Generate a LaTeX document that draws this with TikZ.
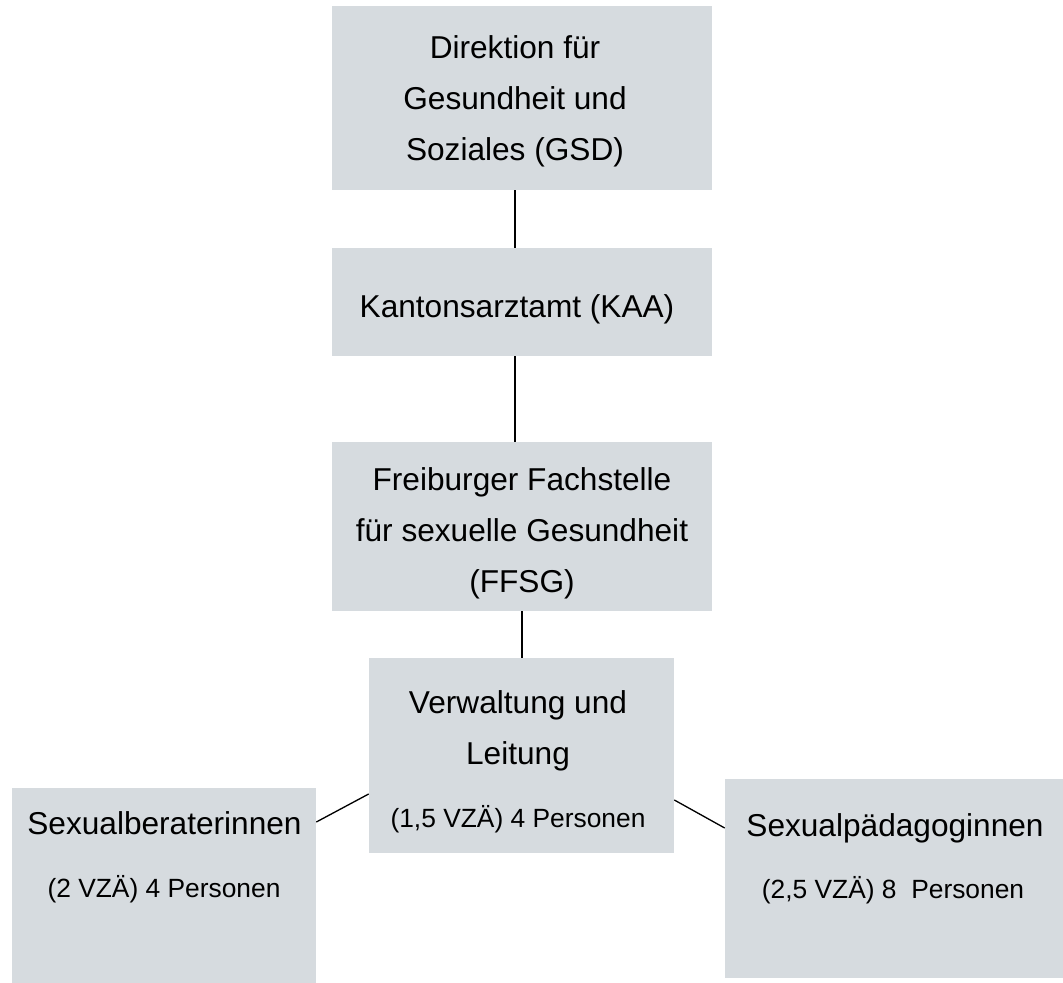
\documentclass[tikz,border=0pt]{standalone}
\usepackage{fontspec}
\setmainfont{Liberation Sans}
\usetikzlibrary{positioning}
\definecolor{boxgray}{RGB}{214,219,223}

\begin{document}
\begin{tikzpicture}[x=0.02cm, y=-0.02cm]
  \tikzstyle{unit} = [rectangle, fill=boxgray, inner sep = 0pt]
  \tikzstyle{title} = [inner sep = 0pt, align=center, font=\fontsize{18}{29}\selectfont]
  \tikzstyle{staff} = [inner sep = 0pt, anchor=base, font=\fontsize{15}{18}\selectfont]
  \tikzstyle{link} = [line width = 0.75pt]

  \useasboundingbox (0,0) rectangle (1063,983);

  % Draw boxes
  \node[unit, minimum width = 7.6cm, minimum height = 3.68cm] (gsd) at (522,98) {};
  \node[unit, minimum width = 7.6cm, minimum height = 2.16cm] (kaa) at (522,302) {};
  \node[unit, minimum width = 7.6cm, minimum height = 3.38cm] (ffsg) at (522,526.5) {};
  \node[unit, minimum width = 6.1cm, minimum height = 3.9cm] (vl) at (521.5,755.5) {};
  \node[unit, minimum width = 6.08cm, minimum height = 3.9cm] (sb) at (164,885.5) {};
  \node[unit, minimum width = 6.76cm, minimum height = 3.98cm] (sp) at (894,878.5) {};

  % Draw titles
  \node[title] (gsd-text) at (515,101) {Direktion für\\Gesundheit und\\Soziales (GSD)};
  \node[title, anchor=base] (kaa-text) at (517,318) {Kantonsarztamt (KAA)};
  \node[title] (ffsg-text) at (522,533) {Freiburger Fachstelle\\für sexuelle Gesundheit\\(FFSG)};
  \node[title] (vl-text) at (518,731) {Verwaltung und\\Leitung};
  \node[title, anchor=base] (sb-text) at (164.5,834) {Sexualberaterinnen};
  \node[title, anchor=base] (sp-text) at (895,836) {Sexualpädagoginnen};

  % Draw staff numbers
  \node[staff] (vl-staff) at (518,827.5) {(1,5 VZÄ) 4 Personen};
  \node[staff] (sb-staff) at (164,897.5) {(2 VZÄ) 4 Personen};
  \node[staff] (sp-staff) at (893,898) {(2,5 VZÄ) 8\ \ Personen};

  % Connections
  \draw[link] (gsd-text |- gsd.south) -- (gsd-text |- kaa.north);
  \draw[link] (gsd-text |- kaa.south) -- (gsd-text |- ffsg.north);
  \draw[link] (ffsg.south) -- (ffsg.south |- vl.north);
  \draw[link] ([yshift=-0.77cm]vl.west) -- ([yshift=1.27cm]sb.east);
  \draw[link] ([yshift=-0.89cm]vl.east) -- ([yshift=1.01cm]sp.west);

\end{tikzpicture}
\end{document}
